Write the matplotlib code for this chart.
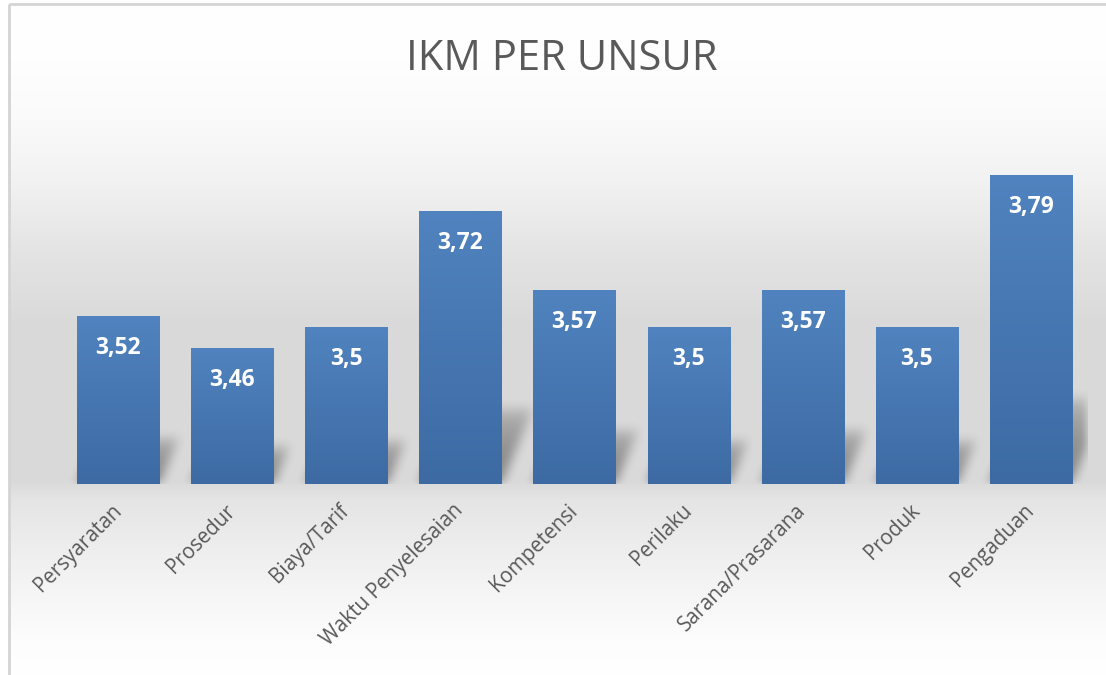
import numpy as np
import matplotlib
matplotlib.use("Agg")
import matplotlib.pyplot as plt
from matplotlib.patches import Rectangle

# ---- data ----
categories = ["Persyaratan", "Prosedur", "Biaya/Tarif", "Waktu Penyelesaian",
              "Kompetensi", "Perilaku", "Sarana/Prasarana", "Produk", "Pengaduan"]
values = [3.52, 3.46, 3.5, 3.72, 3.57, 3.5, 3.57, 3.5, 3.79]
labels = ["3,52", "3,46", "3,5", "3,72", "3,57", "3,5", "3,57", "3,5", "3,79"]

YMIN, YMAX = 3.2, 3.9
W, H = 1106, 675
plt.rcParams['font.family'] = ['Open Sans', 'DejaVu Sans']

fig = plt.figure(figsize=(W / 100, H / 100), dpi=100)

# ---- background (vertical gradient, white -> grey -> white) ----
bg = fig.add_axes([0, 0, 1, 1], zorder=-10)
stops_y = [0, 60, 120, 180, 250, 320, 480, 500, 560, 640, 675]
stops_c = [255, 254, 250, 242, 228, 218, 217, 229, 240, 253, 255]
col = np.interp(np.arange(H), stops_y, stops_c) / 255.0
img = np.repeat(col[:, None], W, axis=1)
img[:, :9] = 1.0
img[:4, :] = 1.0
bg.imshow(np.dstack([img] * 3), aspect='auto', extent=(0, W, H, 0))
bg.add_patch(Rectangle((9, 4), W, H, fill=False, edgecolor='#d4d4d4', lw=2))
bg.set_xlim(0, W)
bg.set_ylim(H, 0)
bg.axis('off')

# ---- plot area ----
left, right, bottom, top = 61, 1088, 484, 117
ax = fig.add_axes([left / W, 1 - bottom / H, (right - left) / W, (bottom - top) / H])
ax.set_facecolor('none')
x = np.arange(len(categories))
ax.set_xlim(-0.5, len(categories) - 0.5)
ax.set_ylim(YMIN, YMAX)

# perspective shadow behind the bars
px_per_unit = (bottom - top) / (YMAX - YMIN)
px_per_cat = (right - left) / len(categories)
gw, gh = right - left, bottom - top
gx = np.linspace(-0.5, len(categories) - 0.5, gw)
gy = np.linspace(YMIN, YMAX, gh)
GX, GY = np.meshgrid(gx, gy)
shade = np.zeros_like(GX)
for i, v in zip(x, values):
    hs = (v - YMIN) * 0.28
    t = (GY - YMIN) / hs
    shift = (GY - YMIN) * px_per_unit * 0.42 / px_per_cat
    inside = (t <= 1) & (GX >= i - 0.36 + shift) & (GX <= i + 0.36 + shift)
    shade = np.maximum(shade, np.where(inside, (1 - np.clip(t, 0, 1)) ** 0.35, 0))


def blur(a, r):
    k = np.ones(2 * r + 1) / (2 * r + 1)
    a = np.apply_along_axis(lambda m: np.convolve(m, k, mode='same'), 0, a)
    return np.apply_along_axis(lambda m: np.convolve(m, k, mode='same'), 1, a)


shade = blur(blur(shade, 6), 5)
rgba = np.zeros((gh, gw, 4))
rgba[..., 3] = shade * 0.4
ax.imshow(rgba, extent=(-0.5, len(categories) - 0.5, YMIN, YMAX), origin='lower',
          aspect='auto', zorder=1, interpolation='bilinear')

# bars with vertical gradient fill
bars = ax.bar(x, np.array(values) - YMIN, bottom=YMIN, width=0.72,
              facecolor='none', edgecolor='none', zorder=2)
grad = np.linspace(0, 1, 256)[:, None]
c_top = np.array([0x50, 0x83, 0xbf]) / 255
c_bot = np.array([0x3d, 0x6a, 0xa3]) / 255
grad_img = c_bot + (c_top - c_bot) * grad[..., None]
for b in bars:
    x0, y0 = b.get_x(), b.get_y()
    im = ax.imshow(np.repeat(grad_img, 2, axis=1), origin='lower', aspect='auto',
                   extent=(x0, x0 + b.get_width(), y0, y0 + b.get_height()), zorder=3)
    im.set_clip_path(b)

# value labels
for i, v, lab in zip(x, values, labels):
    ax.annotate(lab, (i, v), xytext=(0, -38 * 0.72), textcoords='offset points',
                ha='center', va='baseline', color='white', fontsize=16.5,
                fontweight='bold', zorder=5)

ax.set_xticks(x)
ax.set_xticklabels(categories, rotation=45, ha='right', va='center',
                   rotation_mode='anchor', fontsize=14.8, color='#595959')
ax.tick_params(axis='x', length=0, pad=17)
ax.set_yticks([])
for s in ax.spines.values():
    s.set_visible(False)

fig.text(562 / W, 1 - 70 / H, "IKM PER UNSUR", ha='center', va='baseline',
         fontsize=30, color='#595959')

fig.savefig("out.png", dpi=100)
